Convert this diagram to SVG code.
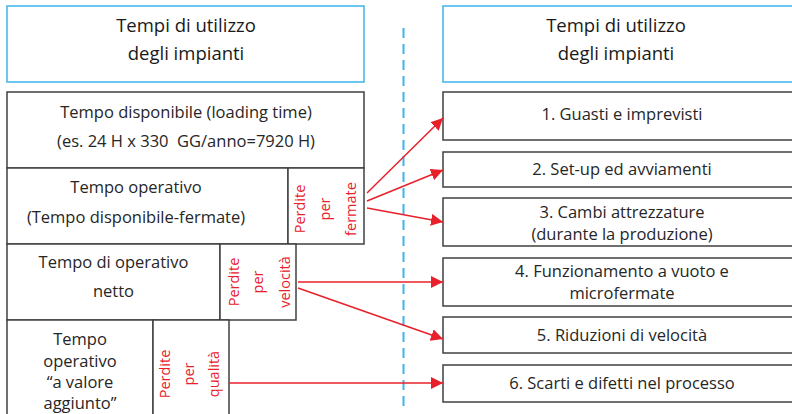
<svg xmlns="http://www.w3.org/2000/svg" width="792" height="414" viewBox="0 0 792 414">
<defs>
<style>
.hdr{fill:#fff;stroke:#3cb4ec;stroke-width:1.5}
.box{fill:#fff;stroke:#404040;stroke-width:1.5}
.t{font-family:"Open Sans","Noto Sans",sans-serif;font-size:16.5px;fill:#262626;text-anchor:middle}
.h{font-family:"Open Sans","Noto Sans",sans-serif;font-size:18.5px;fill:#1a1a1a;text-anchor:middle}
.r{font-family:"Open Sans","Noto Sans",sans-serif;font-size:14.5px;fill:#e8202a;text-anchor:middle}
.ar{stroke:#e8202a;stroke-width:1.5;fill:none;marker-end:url(#ah)}
</style>
<marker id="ah" viewBox="0 0 10 10" refX="10" refY="5" markerWidth="8" markerHeight="8" markerUnits="strokeWidth" orient="auto">
<path d="M0,0 L10,5 L0,10 z" fill="#e8202a"/>
</marker>
</defs>
<rect width="792" height="414" fill="#fff"/>

<g id="header-left">
<rect class="hdr" x="7" y="6" width="357" height="76"/>
<text class="h" x="186" y="32">Tempi di utilizzo</text>
<text class="h" x="186" y="60">degli impianti</text>
</g>

<g id="tempo-disponibile">
<rect class="box" x="7" y="92" width="357" height="76"/>
<text class="t" x="186" y="118">Tempo disponibile (loading time)</text>
<text class="t" x="186" y="147">(es. 24 H x 330&#160; GG/anno=7920 H)</text>
</g>

<g id="tempo-operativo">
<rect class="box" x="7" y="168" width="281" height="76"/>
<text class="t" x="136" y="193">Tempo operativo</text>
<text class="t" x="136" y="223">(Tempo disponibile-fermate)</text>
</g>
<g id="perdite-fermate">
<rect class="box" x="288" y="168" width="76" height="76"/>
<text class="r" transform="translate(305,209) rotate(-90)">Perdite</text>
<text class="r" transform="translate(330,209) rotate(-90)">per</text>
<text class="r" transform="translate(356,209) rotate(-90)">fermate</text>
</g>

<g id="tempo-operativo-netto">
<rect class="box" x="7" y="244" width="213" height="76"/>
<text class="t" x="113.5" y="268">Tempo di operativo</text>
<text class="t" x="113.5" y="297">netto</text>
</g>
<g id="perdite-velocita">
<rect class="box" x="220" y="244" width="76" height="76"/>
<text class="r" transform="translate(239,282) rotate(-90)">Perdite</text>
<text class="r" transform="translate(263,282) rotate(-90)">per</text>
<text class="r" transform="translate(290,282) rotate(-90)">velocità</text>
</g>

<g id="tempo-valore-aggiunto">
<rect class="box" x="7" y="320" width="146" height="110"/>
<text class="t" x="80" y="345">Tempo</text>
<text class="t" x="80" y="367">operativo</text>
<text class="t" x="80" y="388">“a valore</text>
<text class="t" x="80" y="409">aggiunto”</text>
</g>
<g id="perdite-qualita">
<rect class="box" x="153" y="320" width="76" height="110"/>
<text class="r" transform="translate(170,374) rotate(-90)">Perdite</text>
<text class="r" transform="translate(194,374) rotate(-90)">per</text>
<text class="r" transform="translate(219,374) rotate(-90)">qualità</text>
</g>

<g id="divider">
<line x1="403.5" y1="28" x2="403.5" y2="407" stroke="#3cb4ec" stroke-width="2" stroke-dasharray="10,6"/>
</g>

<g id="header-right">
<rect class="hdr" x="443" y="6" width="360" height="76"/>
<text class="h" x="616" y="32">Tempi di utilizzo</text>
<text class="h" x="616" y="60">degli impianti</text>
</g>

<g id="guasti">
<rect class="box" x="443" y="92" width="360" height="48"/>
<text class="t" x="622" y="120">1. Guasti e imprevisti</text>
</g>
<g id="setup">
<rect class="box" x="443" y="152" width="360" height="35"/>
<text class="t" x="622" y="175">2. Set-up ed avviamenti</text>
</g>
<g id="cambi">
<rect class="box" x="443" y="198" width="360" height="48"/>
<text class="t" x="622" y="218">3. Cambi attrezzature</text>
<text class="t" x="622" y="240">(durante la produzione)</text>
</g>
<g id="funzionamento">
<rect class="box" x="443" y="258" width="360" height="48"/>
<text class="t" x="622" y="277">4. Funzionamento a vuoto e</text>
<text class="t" x="622" y="299">microfermate</text>
</g>
<g id="riduzioni">
<rect class="box" x="443" y="317" width="360" height="36"/>
<text class="t" x="622" y="341">5. Riduzioni di velocità</text>
</g>
<g id="scarti">
<rect class="box" x="443" y="365" width="360" height="37"/>
<text class="t" x="622" y="389">6. Scarti e difetti nel processo</text>
</g>

<g id="connectors">
<line class="ar" x1="367" y1="193" x2="443" y2="118"/>
<line class="ar" x1="367" y1="201" x2="443" y2="170"/>
<line class="ar" x1="367" y1="208" x2="443" y2="222"/>
<line class="ar" x1="298" y1="282" x2="443" y2="282"/>
<line class="ar" x1="298" y1="288" x2="443" y2="339"/>
<line class="ar" x1="229" y1="383" x2="443" y2="383"/>
</g>
</svg>
